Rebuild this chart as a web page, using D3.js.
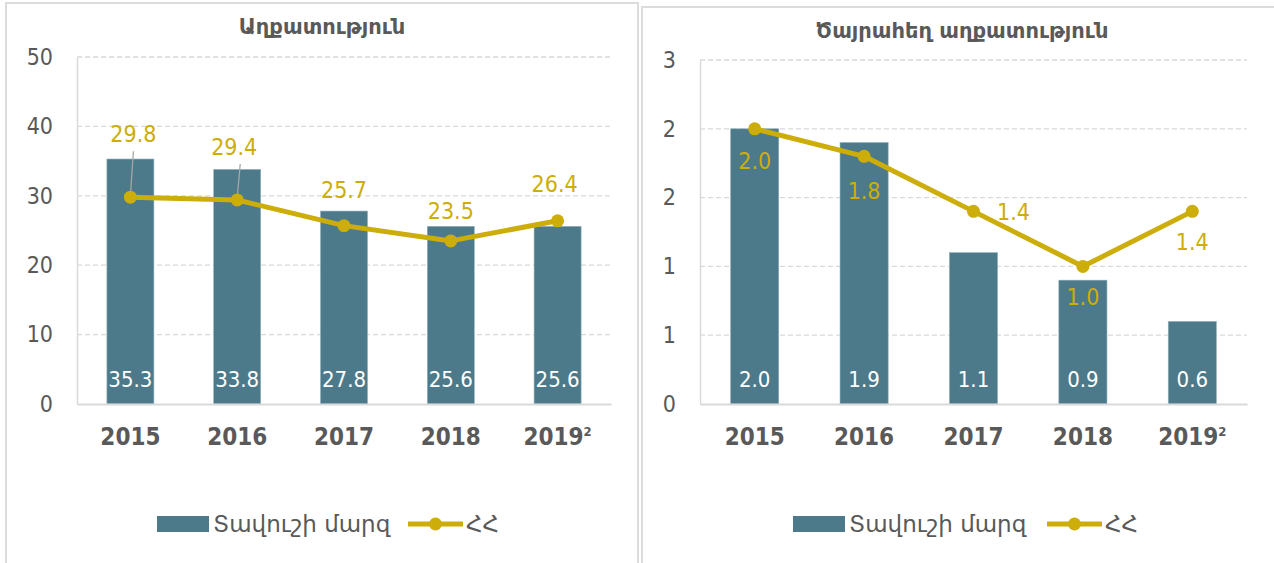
<!DOCTYPE html>
<html>
<head>
<meta charset="utf-8">
<script src="https://cdn.jsdelivr.net/npm/d3@7"></script>
<style>
  body { margin: 0; background: #fff; }
  svg { display: block; }
  .num { font-family: "Liberation Sans Narrow", "DejaVu Sans Condensed", sans-serif; }
  .arm { font-family: "DejaVu Sans", sans-serif; }
</style>
</head>
<body>
<div class="chart"></div>
<script>
// chart data
var years = ["2015", "2016", "2017", "2018", "2019"];
var yearNotes = ["", "", "", "", "2"];
var tavushPoverty = [35.3, 33.8, 27.8, 25.6, 25.6];
var armeniaPoverty = [29.8, 29.4, 25.7, 23.5, 26.4];
var tavushExtreme = [2.0, 1.9, 1.1, 0.9, 0.6];
var armeniaExtreme = [2.0, 1.8, 1.4, 1.0, 1.4];
var povertyTicks = [0, 10, 20, 30, 40, 50];
var extremeTicks = [0, 0.5, 1, 1.5, 2, 2.5];

var barColor = "#4d7a8a";
var lineColor = "#ccad0a";
var textColor = "#595959";
var gridColor = "#d9d9d9";

var svgWidth = 1274;
var svgHeight = 563;

var svg = d3.select(".chart")
  .append("svg")
  .attr("width", svgWidth)
  .attr("height", svgHeight);

// draw one panel
function drawPanel(p) {
  var g = svg.append("g");

  // panel frame
  g.append("rect")
    .attr("x", p.frame[0])
    .attr("y", p.frame[1])
    .attr("width", p.frame[2])
    .attr("height", p.frame[3])
    .attr("fill", "none")
    .attr("stroke", "#dcdcdc")
    .attr("stroke-width", 2);

  var xScale = d3.scaleBand()
    .domain(years)
    .range([p.left, p.right])
    .paddingInner(0.56)
    .paddingOuter(0.28);

  var yScale = d3.scaleLinear()
    .domain([0, d3.max(p.ticks)])
    .range([p.bottom, p.top]);

  // gridlines
  g.selectAll(".grid")
    .data(p.ticks.slice(1))
    .enter()
    .append("line")
    .attr("x1", p.left)
    .attr("x2", p.right)
    .attr("y1", d => yScale(d))
    .attr("y2", d => yScale(d))
    .attr("stroke", gridColor)
    .attr("stroke-width", 1.3)
    .attr("stroke-dasharray", "5,3");

  // y axis
  var leftAxis = d3.axisLeft(yScale)
    .tickValues(p.ticks)
    .tickSize(0)
    .tickPadding(p.left - p.labelRight)
    .tickFormat(p.tickFormat);

  var yAxis = g.append("g")
    .attr("transform", `translate(${p.left}, 0)`)
    .call(leftAxis);
  yAxis.select(".domain").attr("stroke", gridColor).attr("stroke-width", 1.5);
  yAxis.selectAll("text")
    .attr("class", "num")
    .attr("font-size", 23)
    .attr("fill", textColor);

  // bars
  g.selectAll(".bar")
    .data(p.bars)
    .enter()
    .append("rect")
    .attr("x", (d, i) => xScale(years[i]))
    .attr("y", d => yScale(d))
    .attr("width", xScale.bandwidth())
    .attr("height", d => p.bottom - yScale(d))
    .attr("fill", barColor)
    .attr("stroke", "#8fb0ba")
    .attr("stroke-width", 0.6);

  // x axis
  var bottomAxis = d3.axisBottom(xScale).tickSize(0).tickPadding(24);
  var xAxis = g.append("g")
    .attr("transform", `translate(0, ${p.bottom})`)
    .call(bottomAxis);
  xAxis.select(".domain").attr("stroke", gridColor).attr("stroke-width", 2);
  xAxis.selectAll("text")
    .attr("class", "num")
    .attr("font-size", 24)
    .attr("font-weight", "bold")
    .attr("fill", textColor)
    .each(function(d, i) {
      if (yearNotes[i]) {
        d3.select(this).append("tspan")
          .attr("font-size", 13)
          .attr("dy", -9)
          .text(yearNotes[i]);
      }
    });

  // bar value labels
  g.selectAll(".barLabel")
    .data(p.bars)
    .enter()
    .append("text")
    .attr("class", "num")
    .attr("x", (d, i) => xScale(years[i]) + xScale.bandwidth() / 2)
    .attr("y", p.bottom - 17)
    .attr("text-anchor", "middle")
    .attr("font-size", 22)
    .attr("fill", "#fff")
    .text(d => d.toFixed(1));

  // line
  var cx = (d, i) => xScale(years[i]) + xScale.bandwidth() / 2;
  var line = d3.line()
    .x(cx)
    .y(d => yScale(d));

  g.append("path")
    .datum(p.line)
    .attr("d", line)
    .attr("fill", "none")
    .attr("stroke", lineColor)
    .attr("stroke-width", 5)
    .attr("stroke-linejoin", "round");

  // leader lines
  p.line.forEach(function(d, i) {
    if (p.leaders[i]) {
      g.append("line")
        .attr("x1", cx(d, i) + 3)
        .attr("y1", yScale(d) + p.labelDy[i] + 17)
        .attr("x2", cx(d, i))
        .attr("y2", yScale(d) - 2)
        .attr("stroke", "#a6a6a6")
        .attr("stroke-width", 1.3);
    }
  });

  g.selectAll(".dot")
    .data(p.line)
    .enter()
    .append("circle")
    .attr("cx", cx)
    .attr("cy", d => yScale(d))
    .attr("r", 6.5)
    .attr("fill", lineColor);

  // line value labels
  g.selectAll(".lineLabel")
    .data(p.line)
    .enter()
    .append("text")
    .attr("class", "num")
    .attr("x", (d, i) => cx(d, i) + p.labelDx[i])
    .attr("y", (d, i) => yScale(d) + p.labelDy[i])
    .attr("dy", "0.35em")
    .attr("text-anchor", "middle")
    .attr("font-size", 23)
    .attr("fill", lineColor)
    .text(d => d.toFixed(1));

  // title
  g.append("text")
    .attr("class", "arm")
    .attr("x", p.titleX)
    .attr("y", p.titleY)
    .attr("text-anchor", "middle")
    .attr("font-size", 21)
    .attr("font-weight", "bold")
    .attr("fill", textColor)
    .text(p.title);

  // legend
  var lg = g.append("g").attr("transform", `translate(${p.legendX}, 524)`);
  lg.append("rect")
    .attr("x", 0).attr("y", -8)
    .attr("width", 52).attr("height", 16)
    .attr("fill", barColor);
  lg.append("text")
    .attr("class", "arm")
    .attr("x", 56).attr("y", 0)
    .attr("dy", "0.35em")
    .attr("font-size", 23)
    .attr("fill", textColor)
    .text("Տավուշի մարզ");
  lg.append("line")
    .attr("x1", p.legendGap).attr("x2", p.legendGap + 55)
    .attr("y1", 0).attr("y2", 0)
    .attr("stroke", lineColor)
    .attr("stroke-width", 5);
  lg.append("circle")
    .attr("cx", p.legendGap + 27.5).attr("cy", 0)
    .attr("r", 6.5)
    .attr("fill", lineColor);
  lg.append("text")
    .attr("class", "arm")
    .attr("x", p.legendGap + 58).attr("y", 0)
    .attr("dy", "0.35em")
    .attr("font-size", 23)
    .attr("fill", textColor)
    .text("ՀՀ");
}

drawPanel({
  frame: [6, 3, 632, 580],
  left: 77, right: 611, top: 57, bottom: 404, labelRight: 53,
  ticks: povertyTicks,
  tickFormat: d3.format("d"),
  bars: tavushPoverty,
  line: armeniaPoverty,
  labelDx: [3, -3, 0, 0, -3],
  labelDy: [-63, -53, -36, -30, -37],
  leaders: [true, true, false, false, false],
  title: "Աղքատություն",
  titleX: 322, titleY: 34,
  legendX: 157, legendGap: 251
});

drawPanel({
  frame: [642, 7, 640, 580],
  left: 700, right: 1247, top: 60, bottom: 404, labelRight: 676,
  ticks: extremeTicks,
  tickFormat: d => String(Math.round(d)),
  bars: tavushExtreme,
  line: armeniaExtreme,
  labelDx: [0, 0, 40, 0, 0],
  labelDy: [32, 35, 1, 31, 31],
  leaders: [false, false, false, false, false],
  title: "Ծայրահեղ աղքատություն",
  titleX: 962, titleY: 38,
  legendX: 793, legendGap: 254
});
</script>
</body>
</html>
